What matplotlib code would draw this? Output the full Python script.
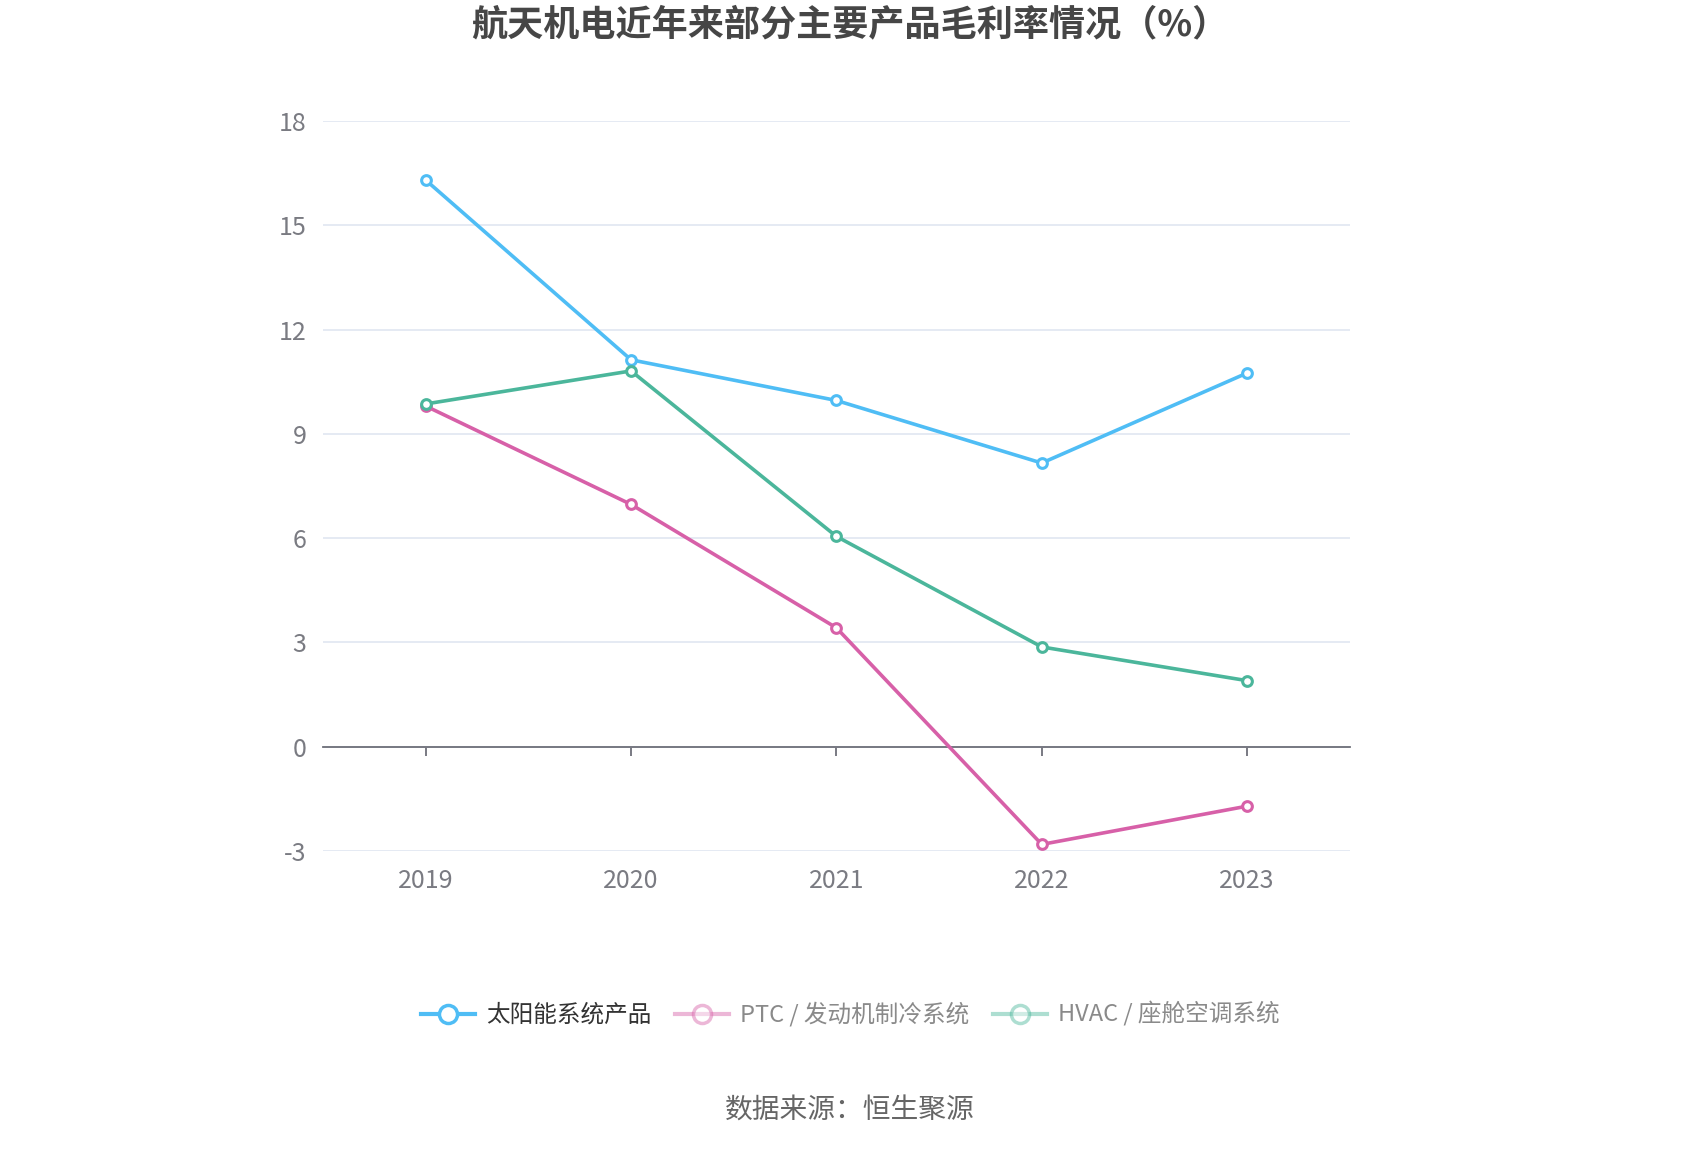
import matplotlib
matplotlib.use("Agg")
import matplotlib.pyplot as plt
from matplotlib.lines import Line2D

plt.rcParams['font.family'] = ['Noto Sans CJK SC', 'DejaVu Sans']

years = ['2019', '2020', '2021', '2022', '2023']
solar = [16.30, 11.13, 9.96, 8.16, 10.75]
ptc = [9.80, 6.97, 3.42, -2.81, -1.71]
hvac = [9.86, 10.81, 6.05, 2.87, 1.90]
series_names = ['太阳能系统产品', 'PTC / 发动机制冷系统', 'HVAC / 座舱空调系统']
yticks = [-3, 0, 3, 6, 9, 12, 15, 18]

colors = ['#4FBDF5', '#D760A8', '#4BB69B']

fig = plt.figure(figsize=(17, 11.5), dpi=100)
ax = fig.add_axes([0.19, 0.26, 0.604, 0.6348])

x = list(range(len(years)))
for vals, c in zip([solar, ptc, hvac], colors):
    ax.plot(x, vals, color=c, lw=2.6, marker='o', ms=7, mfc='white',
            mec=c, mew=2.2, zorder=3, solid_joinstyle='round')

ax.set_xlim(-0.5, 4.5)
ax.set_ylim(-3, 18)
ax.set_yticks(yticks)
ax.set_yticklabels([str(v) for v in yticks])
ax.grid(axis='y', color='#E0E6F1', lw=1.2, zorder=0)
ax.set_axisbelow(True)
for s in ['top', 'right', 'left']:
    ax.spines[s].set_visible(False)
ax.spines['bottom'].set_position(('data', 0))
ax.spines['bottom'].set_color('#6E7079')
ax.spines['bottom'].set_linewidth(1.3)
ax.spines['bottom'].set_zorder(2)
ax.set_xticks(x)
ax.tick_params(axis='x', length=6.5, width=1.3, color='#6E7079',
               direction='out', labelbottom=False)
ax.tick_params(axis='y', length=0, pad=12, labelsize=18, labelcolor='#7A7B82')

sec = ax.secondary_xaxis('bottom')
sec.set_xticks(x)
sec.set_xticklabels(years)
sec.tick_params(length=0, pad=12, labelsize=18, labelcolor='#7A7B82')
sec.spines['bottom'].set_visible(False)

fig.text(0.5, 0.978, '航天机电近年来部分主要产品毛利率情况（%）', ha='center', va='center',
         fontsize=26, fontweight='bold', color='#464646')

handles = []
for i, c in enumerate(colors):
    a = 1.0 if i == 0 else 0.45
    handles.append(Line2D([0], [0], color=c, lw=3, alpha=a, marker='o', ms=13,
                          mfc='white', mec=c, mew=2.5))
leg = fig.legend(handles, series_names, loc='center', bbox_to_anchor=(0.5, 0.118),
                 ncol=3, frameon=False, fontsize=17, handlelength=2.3,
                 handletextpad=0.45, columnspacing=1.0)
for i, t in enumerate(leg.get_texts()):
    t.set_color('#333333' if i == 0 else '#8A8A8A')

fig.text(0.5, 0.034, '数据来源：恒生聚源', ha='center', va='center',
         fontsize=20, color='#666666')

fig.savefig('out.png', dpi=100, facecolor='white')
